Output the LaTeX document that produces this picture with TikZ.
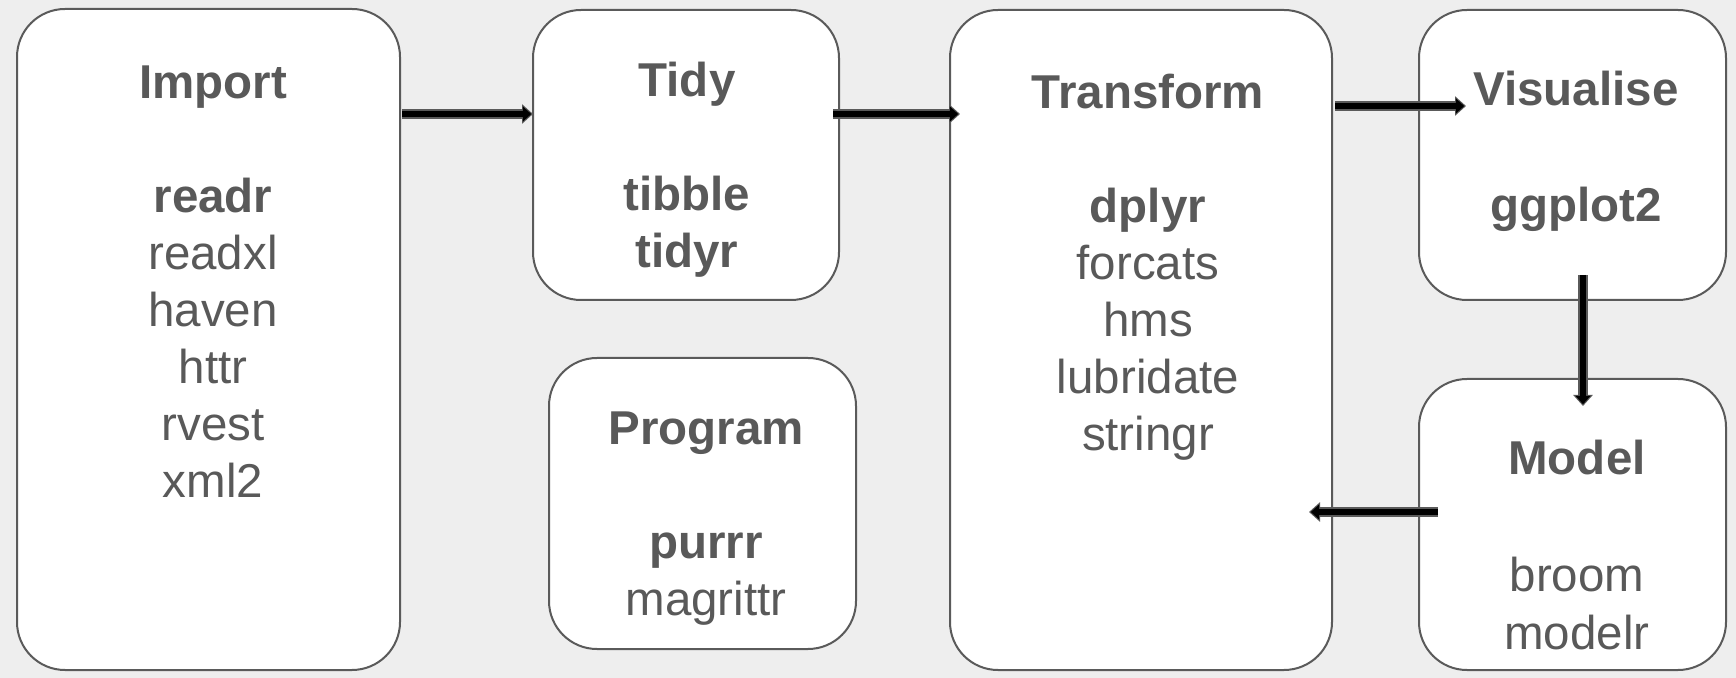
\documentclass[tikz,border=0pt]{standalone}
\usepackage{fontspec}
\setmainfont{Liberation Sans}
\usetikzlibrary{arrows.meta}
\definecolor{bg}{HTML}{EEEEEE}
\definecolor{txt}{HTML}{595959}
\definecolor{edge}{HTML}{5A5A5A}
\begin{document}
\begin{tikzpicture}[x=0.5pt,y=-0.5pt,
 box/.style={draw=edge, line width=1pt, fill=white, rounded corners=24pt, inner sep=0pt},
 lbl/.style={anchor=base, inner sep=0pt, text=txt, font=\fontsize{23.75pt}{28.5pt}\selectfont},
 ttl/.style={lbl, font=\fontsize{23.75pt}{28.5pt}\selectfont\bfseries},
 arrout/.style={draw=edge, line width=4.6pt, -{Triangle[length=5.5pt,width=9.5pt]}},
 arrin/.style={draw=black, line width=3.4pt, shorten >=0.9pt, -{Triangle[length=4.2pt,width=7.4pt]}},
]
\fill[bg] (0,0) rectangle (1736,678);
\useasboundingbox (0,0) rectangle (1736,678);

% boxes
\node[box, minimum width=191.5pt, minimum height=330.5pt] (import) at (208.5,339.5) {};
\node[box, minimum width=153pt, minimum height=145pt] (tidy) at (686,155) {};
\node[box, minimum width=191pt, minimum height=330pt] (transform) at (1141,340) {};
\node[box, minimum width=153.5pt, minimum height=145pt] (visualise) at (1572.5,155) {};
\node[box, minimum width=153.5pt, minimum height=145.5pt] (model) at (1572.5,524.5) {};
\node[box, minimum width=153.5pt, minimum height=145.5pt] (program) at (702.5,503.5) {};

% Import
\node[ttl] (importT) at (213,99) {Import};
\node[ttl] (readr) at (213,213) {readr};
\node[lbl] (readxl) at (213,270) {readxl};
\node[lbl] (haven) at (213,327) {haven};
\node[lbl] (httr) at (213,384) {httr};
\node[lbl] (rvest) at (213,441) {rvest};
\node[lbl] (xml2) at (213,498) {xml2};

% Tidy
\node[ttl] (tidyT) at (687,97) {Tidy};
\node[ttl] (tibble) at (687,211) {tibble};
\node[ttl] (tidyr) at (687,268) {tidyr};

% Transform
\node[ttl] (transformT) at (1148,109) {Transform};
\node[ttl] (dplyr) at (1148,223) {dplyr};
\node[lbl] (forcats) at (1148,280) {forcats};
\node[lbl] (hms) at (1148,337) {hms};
\node[lbl] (lubridate) at (1148,394) {lubridate};
\node[lbl] (stringr) at (1148,451) {stringr};

% Visualise
\node[ttl] (visualiseT) at (1576,106) {Visualise};
\node[ttl] (ggplot) at (1576,222) {ggplot2};

% Model
\node[ttl] (modelT) at (1577,475) {Model};
\node[lbl] (broom) at (1577,592) {broom};
\node[lbl] (modelr) at (1577,649) {modelr};

% Program
\node[ttl] (programT) at (706,445) {Program};
\node[ttl] (purrr) at (706,559) {purrr};
\node[lbl] (magrittr) at (706,616) {magrittr};

% arrow end points
\coordinate (a1s) at (402,114); \coordinate (a1e) at (533,114);
\coordinate (a2s) at (833,114); \coordinate (a2e) at (960,114);
\coordinate (a3s) at (1335,106); \coordinate (a3e) at (1466,106);
\coordinate (a4s) at (1583,275); \coordinate (a4e) at (1583,406);
\coordinate (a5s) at (1438,512); \coordinate (a5e) at (1309,512);

\foreach \s/\e in {a1s/a1e, a2s/a2e, a3s/a3e, a4s/a4e, a5s/a5e}{
  \draw[arrout] (\s) -- (\e);
  \draw[arrin] (\s) -- (\e);
}
\end{tikzpicture}
\end{document}
